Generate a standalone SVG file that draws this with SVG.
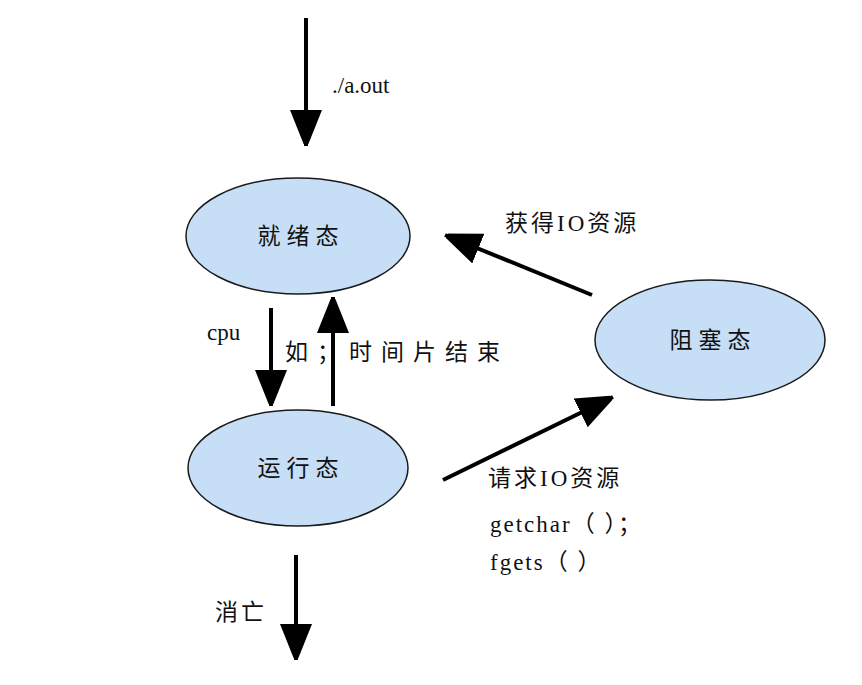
<svg xmlns="http://www.w3.org/2000/svg" width="862" height="685" viewBox="0 0 862 685">
<style>
.n{fill:#c6def6;stroke:#1a1a1a;stroke-width:1.5}
.c line{stroke:#000;stroke-width:4;marker-end:url(#a)}
text{font-family:"Liberation Serif","Noto Sans CJK SC",serif;font-size:23px;fill:#111}
.t{text-anchor:middle;letter-spacing:6px}
</style>
<defs><marker id="a" markerUnits="userSpaceOnUse" markerWidth="34" markerHeight="34" refX="36" refY="16" orient="auto"><path d="M0,0L40,16L0,32z" fill="#000"/></marker></defs>
<rect width="862" height="685" fill="#fff"/>
<g id="ready"><ellipse class="n" cx="298" cy="236" rx="112" ry="58"/><text class="t" x="301" y="244">就绪态</text></g>
<g id="running"><ellipse class="n" cx="298" cy="468" rx="110" ry="58"/><text class="t" x="301" y="476">运行态</text></g>
<g id="blocked"><ellipse class="n" cx="710" cy="340" rx="115" ry="60"/><text class="t" x="713" y="348">阻塞态</text></g>
<g class="c">
<line x1="306" y1="18" x2="306" y2="146"/>
<line x1="271" y1="308" x2="271" y2="406"/>
<line x1="333" y1="406" x2="333" y2="297"/>
<line x1="592" y1="295" x2="445" y2="235"/>
<line x1="443" y1="480" x2="613" y2="397"/>
<line x1="296" y1="555" x2="296" y2="660"/>
</g>
<text x="332" y="93">./a.out</text>
<text x="207" y="340">cpu</text>
<text x="285" y="360" letter-spacing="9">如；时间片结束</text>
<text x="505" y="231" letter-spacing="3">获得IO资源</text>
<text x="488" y="486" letter-spacing="3">请求IO资源</text>
<text x="490" y="532" letter-spacing="2">getchar（ ）；</text>
<text x="490" y="570" letter-spacing="2">fgets（ ）</text>
<text x="215" y="620" letter-spacing="3">消亡</text>
</svg>
